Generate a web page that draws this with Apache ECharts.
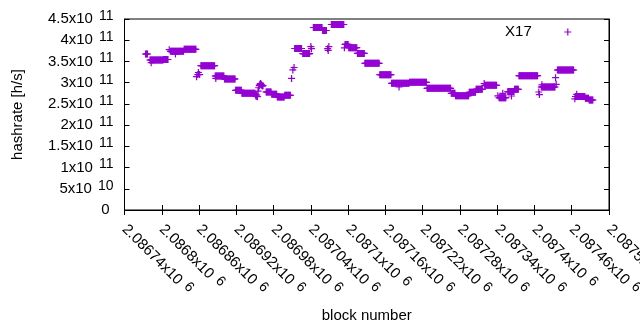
<!DOCTYPE html>
<html>
<head>
<meta charset="utf-8">
<script src="https://cdn.jsdelivr.net/npm/echarts@6/dist/echarts.min.js"></script>
<style>
  html, body { margin: 0; padding: 0; background: #fff; }
  #main { width: 640px; height: 330px; }
</style>
</head>
<body>
<div id="main"></div>
<script>
// hashrate per block, in units of 1e11 h/s
// runs of consecutive blocks with the same value: [first block, last block, hashrate]
var runs = [
  [2086774, 2086777, 3.675],
  [2086781, 2086802, 3.534],
  [2086803, 2086810, 3.546],
  [2086814, 2086835, 3.739],
  [2086836, 2086855, 3.786],
  [2086863, 2086885, 3.40],
  [2086886, 2086900, 3.157],
  [2086901, 2086918, 3.086],
  [2086919, 2086928, 2.82],
  [2086929, 2086950, 2.749],
  [2086951, 2086953, 2.71],
  [2086968, 2086976, 2.78],
  [2086977, 2086985, 2.73],
  [2086986, 2086997, 2.662],
  [2086998, 2087007, 2.702],
  [2087014, 2087025, 3.805],
  [2087027, 2087038, 3.685],
  [2087044, 2087058, 4.30],
  [2087059, 2087065, 4.229],
  [2087073, 2087093, 4.37],
  [2087095, 2087100, 3.90],
  [2087101, 2087114, 3.824],
  [2087115, 2087126, 3.69],
  [2087127, 2087150, 3.456],
  [2087151, 2087169, 3.188],
  [2087170, 2087198, 2.985],
  [2087199, 2087226, 3.009],
  [2087227, 2087265, 2.867],
  [2087266, 2087272, 2.749],
  [2087273, 2087294, 2.693],
  [2087295, 2087305, 2.773],
  [2087306, 2087316, 2.844],
  [2087320, 2087339, 2.938],
  [2087343, 2087354, 2.646],
  [2087358, 2087367, 2.79],
  [2087368, 2087374, 2.844],
  [2087375, 2087405, 3.164],
  [2087411, 2087433, 2.898],
  [2087437, 2087463, 3.298],
  [2087466, 2087481, 2.674],
  [2087482, 2087487, 2.632],
  [2087488, 2087494, 2.592]
];

// single blocks off the runs: [block, hashrate]
var singles = [
  [2086783, 3.47], [2086812, 3.777], [2086822, 3.675],
  [2086856, 3.14], [2086858, 3.19], [2086859, 3.24], [2086861, 3.19],
  [2086887, 3.10], [2086952, 2.674],
  [2086954, 2.67], [2086955, 2.80], [2086956, 2.88], [2086957, 2.93], [2086958, 2.96],
  [2086959, 2.98], [2086960, 2.96], [2086961, 2.94], [2086962, 2.92], [2086963, 2.93],
  [2087009, 3.10], [2087011, 3.30], [2087013, 3.357],
  [2087040, 3.85], [2087041, 3.80],
  [2087067, 3.80], [2087068, 3.76], [2087069, 3.85],
  [2087094, 3.82], [2087182, 2.898], [2087319, 2.98],
  [2087341, 2.69], [2087349, 2.75], [2087357, 2.787], [2087363, 2.686],
  [2087407, 2.78], [2087408, 2.72], [2087412, 2.95],
  [2087434, 3.117], [2087435, 2.96],
  [2087465, 2.62], [2087468, 2.726]
];

var seriesName = 'X17';
var xMin = 2086740, xMax = 2087520, xStep = 60;
var yMin = 0, yMax = 4.5e11, yStep = 0.5e11;

var points = [];
runs.forEach(function (r) {
  for (var b = r[0]; b <= r[1]; b++) points.push([b, r[2] * 1e11]);
});
singles.forEach(function (s) { points.push([s[0], s[1] * 1e11]); });

var font = 'Liberation Sans';
var plus = 'path://M2.9,0H4.1V2.9H7V4.1H4.1V7H2.9V4.1H0V2.9H2.9Z';

// gnuplot style "4.5x10^11" labels
function sci(v) {
  if (v === 0) return '{z|0}';
  var e = Math.floor(Math.log10(v) + 1e-9);
  var m = parseFloat((v / Math.pow(10, e)).toPrecision(8));
  return '{m|' + m + 'x10}{e|' + e + '}';
}
var rich = {
  m: { fontSize: 15, fontFamily: font, color: '#000' },
  e: { fontSize: 14, fontFamily: font, color: '#000', padding: [0, 0, 6, 6] },
  z: { fontSize: 15, fontFamily: font, color: '#000', padding: [0, 4, 0, 0] }
};

var myChart = echarts.init(document.getElementById('main'));

var option = {
  animation: false,
  backgroundColor: '#fff',
  grid: {
    left: 124.5, right: 31, top: 19, bottom: 120,
    containLabel: false,
    outerBoundsMode: 'none',
    show: true, borderColor: '#000', borderWidth: 1
  },
  legend: {
    data: [seriesName],
    right: 68.7, top: 24.5,
    align: 'right',
    padding: 0,
    icon: plus,
    itemWidth: 62, itemHeight: 7,
    symbolKeepAspect: true,
    itemStyle: { color: '#9400d3' },
    textStyle: { fontSize: 15, fontFamily: font, color: '#000' }
  },
  xAxis: [
    {
      type: 'value', min: xMin, max: xMax, interval: xStep,
      name: 'block number', nameLocation: 'middle', nameGap: 98,
      nameTextStyle: { fontSize: 15, fontFamily: font, color: '#000' },
      axisLine: { lineStyle: { color: '#000' } },
      axisTick: { inside: true, length: 5, lineStyle: { color: '#000' } },
      splitLine: { show: false },
      axisLabel: {
        rotate: -45, margin: 17, formatter: sci, rich: rich,
        showMinLabel: true, showMaxLabel: true, hideOverlap: false
      }
    },
    {
      type: 'value', position: 'top', min: xMin, max: xMax, interval: xStep,
      axisLine: { lineStyle: { color: '#000' } },
      axisTick: { inside: true, length: 5, lineStyle: { color: '#000' } },
      axisLabel: { show: false }, splitLine: { show: false }
    }
  ],
  yAxis: [
    {
      type: 'value', min: yMin, max: yMax, interval: yStep,
      name: 'hashrate [h/s]', nameLocation: 'middle', nameGap: 99,
      nameTextStyle: { fontSize: 15, fontFamily: font, color: '#000' },
      axisLine: { show: true, lineStyle: { color: '#000' } },
      axisTick: { show: true, inside: true, length: 5, lineStyle: { color: '#000' } },
      splitLine: { show: false },
      axisLabel: { margin: 11, formatter: sci, rich: rich, showMinLabel: true, showMaxLabel: true }
    },
    {
      type: 'value', position: 'right', min: yMin, max: yMax, interval: yStep,
      axisLine: { show: true, lineStyle: { color: '#000' } },
      axisTick: { show: true, inside: true, length: 5, lineStyle: { color: '#000' } },
      axisLabel: { show: false }, splitLine: { show: false }
    }
  ],
  series: [
    {
      name: seriesName,
      type: 'scatter',
      symbol: plus,
      symbolSize: 7,
      itemStyle: { color: '#9400d3', opacity: 1 },
      data: points
    }
  ]
};

myChart.setOption(option);
</script>
</body>
</html>
